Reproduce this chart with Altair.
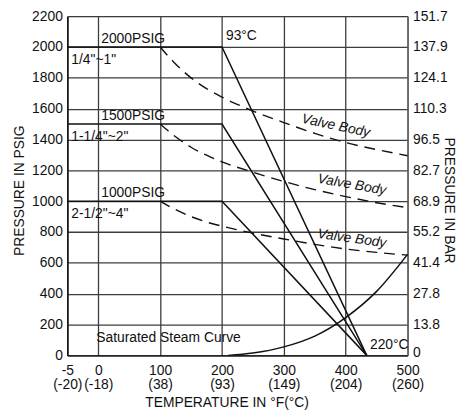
import altair as alt
import pandas as pd

# ---------------- data ----------------
# rated pressure limits (solid): flat to 200°F, then straight down to ~434°F (220°C)
limit_names = ["2000", "1500", "1000"]
limit_x = [-50, 200, 434]
limit_2000 = [2000, 2000, 0]
limit_1500 = [1500, 1500, 0]
limit_1000 = [1000, 1000, 0]

# valve body curves (dashed)
body_x = [100, 125, 150, 175, 200, 250, 300, 350, 400, 450, 500]
body_2000 = [2000, 1890, 1800, 1730, 1675, 1585, 1510, 1440, 1380, 1335, 1295]
body_1500 = [1500, 1418, 1350, 1298, 1255, 1188, 1128, 1075, 1030, 990, 958]
body_1000 = [1000, 945, 900, 865, 838, 793, 755, 720, 690, 668, 650]

# saturated steam curve
steam_x = [210, 250, 300, 350, 400, 450, 500]
steam_y = [0, 15, 55, 125, 245, 415, 655]

# axis ticks / labels
x_ticks = [-50, 0, 100, 200, 300, 400, 500]
x_f_labels = ["-5", "0", "100", "200", "300", "400", "500"]
x_c_labels = ["(-20)", "(-18)", "(38)", "(93)", "(149)", "(204)", "(260)"]
y_ticks = [0, 200, 400, 600, 800, 1000, 1200, 1400, 1600, 1800, 2000, 2200]
bar_labels = ["0", "13.8", "27.8", "41.4", "55.2", "68.9", "82.7", "96.5",
              "110.3", "124.1", "137.9", "151.7"]

# annotations
psig_text = ["2000PSIG", "1500PSIG", "1000PSIG"]
psig_y = [2000, 1500, 1000]
size_text = ['1/4"~1"', '1-1/4"~2"', '2-1/2"~4"']
body_label_x = [384, 410, 410]
body_label_y = [1488, 1106, 757]
body_label_angle = [12, 10, 8]

FONT = "Liberation Sans"

# ---------------- frames ----------------
rows = []
for name, ys in zip(limit_names, [limit_2000, limit_1500, limit_1000]):
    for x, y in zip(limit_x, ys):
        rows.append({"s": "lim" + name, "x": x, "y": y})
limits = pd.DataFrame(rows)

rows = []
for name, ys in zip(limit_names, [body_2000, body_1500, body_1000]):
    for x, y in zip(body_x, ys):
        rows.append({"s": "body" + name, "x": x, "y": y})
bodies = pd.DataFrame(rows)

steam = pd.DataFrame({"x": steam_x, "y": steam_y})

x_expr = " : ".join(
    f"datum.value == {v} ? ['{f}', '{c}']" for v, f, c in zip(x_ticks, x_f_labels, x_c_labels)
) + " : ''"
bar_expr = " : ".join(
    f"datum.value == {v} ? '{b}'" for v, b in zip(y_ticks, bar_labels)
) + " : ''"

xscale = alt.Scale(domain=[-50, 500], nice=False, zero=False)
yscale = alt.Scale(domain=[0, 2200], nice=False, zero=True)

x_axis = alt.Axis(
    values=x_ticks, labelExpr=x_expr, title="TEMPERATURE IN °F(°C)",
    grid=True, gridColor="#3c3c3c", gridWidth=1.3, tickSize=0,
    labelPadding=8, labelLineHeight=15, labelOverlap=False, labelFlush=False,
    labelFontSize=14, titleFontSize=14, labelFont=FONT, titleFont=FONT,
    labelColor="#111", titleColor="#111", titleFontWeight="normal",
    titleX=161, titleY=52, titleAlign="center", titleBaseline="alphabetic",
    domainColor="#111", domainWidth=1.5,
)
y_axis = alt.Axis(
    values=y_ticks, tickCount=12, format="d", title="PRESSURE IN PSIG",
    grid=True, gridColor="#3c3c3c", gridWidth=1.3, tickSize=0,
    labelPadding=5, labelOverlap=False, labelFlush=False,
    labelFontSize=14, titleFontSize=14, labelFont=FONT, titleFont=FONT,
    labelColor="#111", titleColor="#111", titleFontWeight="normal",
    titleAngle=-90, titleX=-48, titleY=176, titleAlign="center", titleBaseline="middle",
    domainColor="#111", domainWidth=1.5,
)
y_axis_r = alt.Axis(
    orient="right", values=y_ticks, tickCount=12, labelExpr=bar_expr, title="PRESSURE IN BAR",
    grid=False, tickSize=0, labelPadding=5,
    labelOffset={"condition": {"test": "datum.value == 0", "value": -3}, "value": 0},
    labelOverlap=False, labelFlush=False,
    labelFontSize=14, titleFontSize=14, labelFont=FONT, titleFont=FONT,
    labelColor="#111", titleColor="#111", titleFontWeight="normal",
    titleAngle=90, titleX=41, titleY=186, titleAlign="center", titleBaseline="middle",
    domainColor="#666", domainWidth=1.3,
)

X = alt.X("x:Q", scale=xscale, axis=x_axis)
Y = alt.Y("y:Q", scale=yscale, axis=y_axis)

limit_layer = alt.Chart(limits).mark_line(color="#111", strokeWidth=1.5).encode(
    x=X, y=Y, detail="s:N", order="x:Q"
)
body_layer = alt.Chart(bodies).mark_line(
    color="#111", strokeWidth=1.4, strokeDash=[11, 7], interpolate="monotone"
).encode(x=X, y=Y, detail="s:N", order="x:Q")
steam_layer = alt.Chart(steam).mark_line(
    color="#111", strokeWidth=1.5, interpolate="monotone"
).encode(x=X, y=Y)

txt = dict(font=FONT, fontSize=14, color="#111")
psig_df = pd.DataFrame({"x": [0] * 3, "y": psig_y, "t": psig_text})
psig_layer = alt.Chart(psig_df).mark_text(
    align="left", baseline="alphabetic", dx=3, dy=-4, **txt
).encode(x=X, y=Y, text="t:N")

size_df = pd.DataFrame({"x": [-50] * 3, "y": psig_y, "t": size_text})
size_layer = alt.Chart(size_df).mark_text(
    align="left", baseline="alphabetic", dx=4, dy=17, **txt
).encode(x=X, y=Y, text="t:N")

c93 = alt.Chart(pd.DataFrame({"x": [200], "y": [2000], "t": ["93°C"]})).mark_text(
    align="left", baseline="alphabetic", dx=4, dy=-7, **txt
).encode(x=X, y=Y, text="t:N")
c220 = alt.Chart(pd.DataFrame({"x": [500], "y": [0], "t": ["220°C"]})).mark_text(
    align="right", baseline="alphabetic", dx=1, dy=-6, **txt
).encode(x=X, y=Y, text="t:N")
steam_lbl = alt.Chart(pd.DataFrame({"x": [0], "y": [0], "t": ["Saturated Steam Curve"]})).mark_text(
    align="left", baseline="alphabetic", dx=-2, dy=-14, **txt
).encode(x=X, y=Y, text="t:N")

body_df = pd.DataFrame({"x": body_label_x, "y": body_label_y,
                        "a": body_label_angle, "t": ["Valve Body"] * 3})
body_lbl = alt.Chart(body_df).mark_text(
    align="center", baseline="middle", fontStyle="italic", **txt
).encode(x=X, y=Y, text="t:N", angle=alt.Angle("a:Q", scale=None))

right_axis = alt.Chart(pd.DataFrame({"y": [0, 2200]})).mark_point(opacity=0).encode(
    y=alt.Y("y:Q", scale=yscale, axis=y_axis_r)
)

left = alt.layer(limit_layer, body_layer, steam_layer, psig_layer, size_layer,
                 c93, c220, steam_lbl, body_lbl)

chart = alt.layer(left, right_axis).resolve_scale(y="independent").resolve_axis(
    y="independent"
).properties(
    width=344, height=343,
    autosize=alt.AutoSizeParams(type="none"),
    padding={"left": 60, "top": 6, "right": 50, "bottom": 55},
).configure_view(stroke="#666", strokeWidth=1.3).configure(background="white")

chart.save("out.html", embed_options={"renderer": "svg", "actions": False})
